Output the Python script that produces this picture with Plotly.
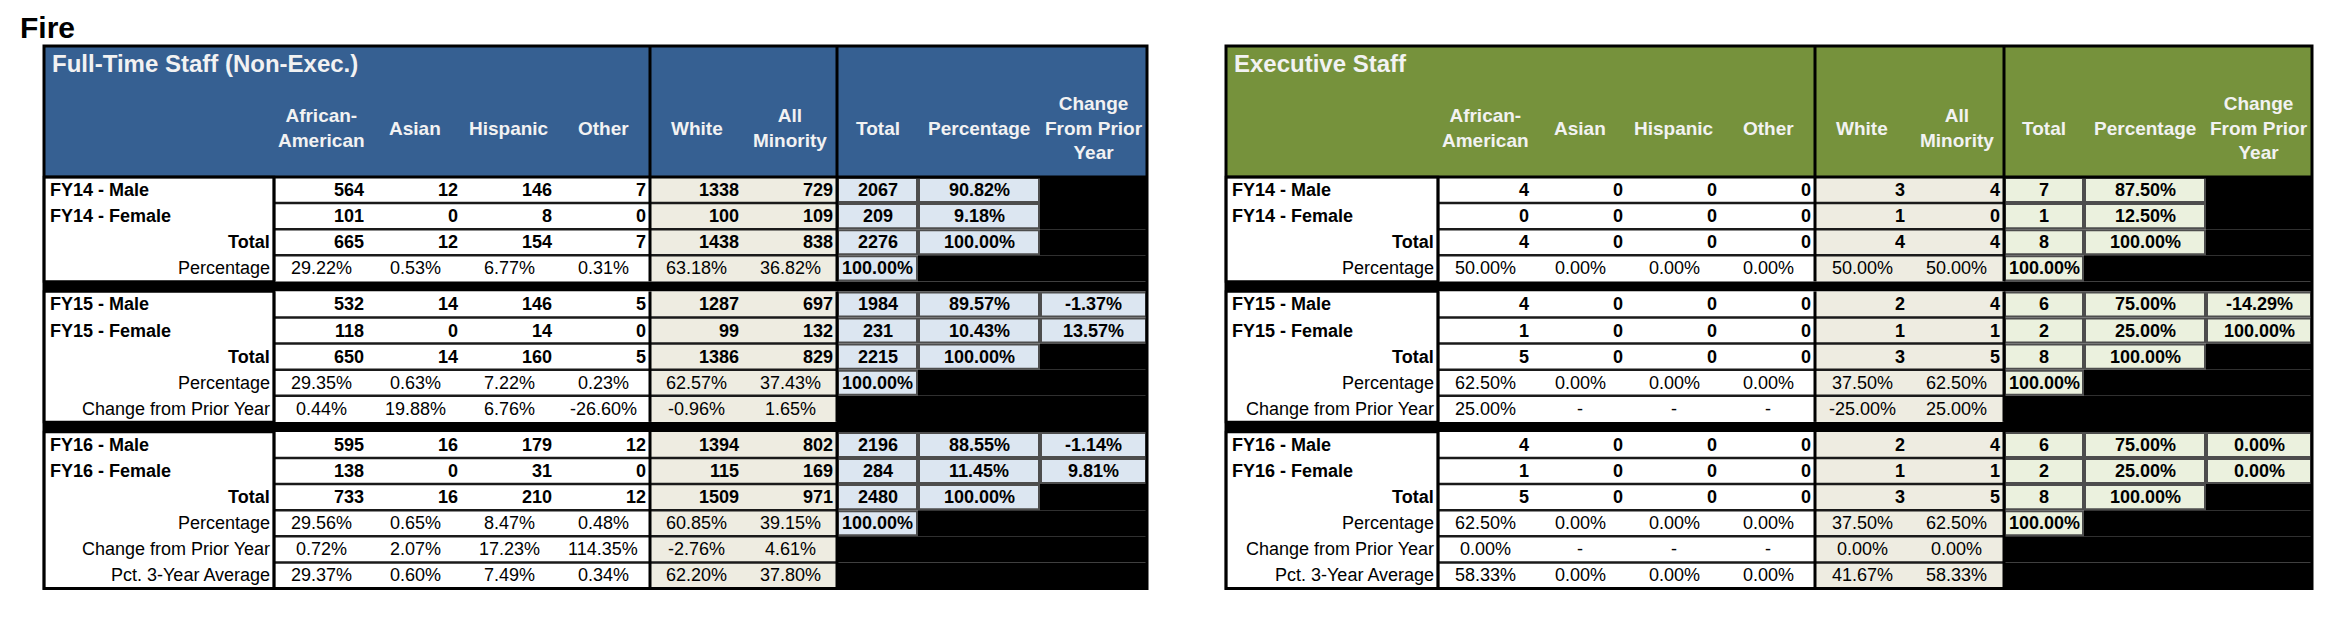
"""Fire department staffing tables (FY14-FY16) redrawn with Plotly."""

import plotly.graph_objects as go

HEADERS = [
    "African-<br>American", "Asian", "Hispanic", "Other", "White",
    "All<br>Minority", "Total", "Percentage", "Change<br>From Prior<br>Year",
]

# Full-Time Staff (Non-Exec.)  None = empty (black) cell
FT_FY14_MALE = [564, 12, 146, 7, 1338, 729, 2067, 90.82, None]
FT_FY14_FEMALE = [101, 0, 8, 0, 100, 109, 209, 9.18, None]
FT_FY14_TOTAL = [665, 12, 154, 7, 1438, 838, 2276, 100.00, None]
FT_FY14_PCT = [29.22, 0.53, 6.77, 0.31, 63.18, 36.82, 100.00, None, None]

FT_FY15_MALE = [532, 14, 146, 5, 1287, 697, 1984, 89.57, -1.37]
FT_FY15_FEMALE = [118, 0, 14, 0, 99, 132, 231, 10.43, 13.57]
FT_FY15_TOTAL = [650, 14, 160, 5, 1386, 829, 2215, 100.00, None]
FT_FY15_PCT = [29.35, 0.63, 7.22, 0.23, 62.57, 37.43, 100.00, None, None]
FT_FY15_CHANGE = [0.44, 19.88, 6.76, -26.60, -0.96, 1.65, None, None, None]

FT_FY16_MALE = [595, 16, 179, 12, 1394, 802, 2196, 88.55, -1.14]
FT_FY16_FEMALE = [138, 0, 31, 0, 115, 169, 284, 11.45, 9.81]
FT_FY16_TOTAL = [733, 16, 210, 12, 1509, 971, 2480, 100.00, None]
FT_FY16_PCT = [29.56, 0.65, 8.47, 0.48, 60.85, 39.15, 100.00, None, None]
FT_FY16_CHANGE = [0.72, 2.07, 17.23, 114.35, -2.76, 4.61, None, None, None]
FT_AVG_3YR = [29.37, 0.60, 7.49, 0.34, 62.20, 37.80, None, None, None]

# Executive Staff
EX_FY14_MALE = [4, 0, 0, 0, 3, 4, 7, 87.50, None]
EX_FY14_FEMALE = [0, 0, 0, 0, 1, 0, 1, 12.50, None]
EX_FY14_TOTAL = [4, 0, 0, 0, 4, 4, 8, 100.00, None]
EX_FY14_PCT = [50.00, 0.00, 0.00, 0.00, 50.00, 50.00, 100.00, None, None]

EX_FY15_MALE = [4, 0, 0, 0, 2, 4, 6, 75.00, -14.29]
EX_FY15_FEMALE = [1, 0, 0, 0, 1, 1, 2, 25.00, 100.00]
EX_FY15_TOTAL = [5, 0, 0, 0, 3, 5, 8, 100.00, None]
EX_FY15_PCT = [62.50, 0.00, 0.00, 0.00, 37.50, 62.50, 100.00, None, None]
EX_FY15_CHANGE = [25.00, "-", "-", "-", -25.00, 25.00, None, None, None]

EX_FY16_MALE = [4, 0, 0, 0, 2, 4, 6, 75.00, 0.00]
EX_FY16_FEMALE = [1, 0, 0, 0, 1, 1, 2, 25.00, 0.00]
EX_FY16_TOTAL = [5, 0, 0, 0, 3, 5, 8, 100.00, None]
EX_FY16_PCT = [62.50, 0.00, 0.00, 0.00, 37.50, 62.50, 100.00, None, None]
EX_FY16_CHANGE = [0.00, "-", "-", "-", 0.00, 0.00, None, None, None]
EX_AVG_3YR = [58.33, 0.00, 0.00, 0.00, 41.67, 58.33, None, None, None]


def year_groups(prefix, fy14, fy15, fy16, avg):
    """Row layout for the three fiscal-year blocks of one table."""
    return [
        [
            (f"{prefix[0]} - Male", "head", fy14[0]),
            (f"{prefix[0]} - Female", "head", fy14[1]),
            ("Total", "total", fy14[2]),
            ("Percentage", "plain", fy14[3]),
        ],
        [
            (f"{prefix[1]} - Male", "head", fy15[0]),
            (f"{prefix[1]} - Female", "head", fy15[1]),
            ("Total", "total", fy15[2]),
            ("Percentage", "plain", fy15[3]),
            ("Change from Prior Year", "plain", fy15[4]),
        ],
        [
            (f"{prefix[2]} - Male", "head", fy16[0]),
            (f"{prefix[2]} - Female", "head", fy16[1]),
            ("Total", "total", fy16[2]),
            ("Percentage", "plain", fy16[3]),
            ("Change from Prior Year", "plain", fy16[4]),
            ("Pct. 3-Year Average", "plain", avg),
        ],
    ]


YEARS = ["FY14", "FY15", "FY16"]

FT_GROUPS = year_groups(
    YEARS,
    [FT_FY14_MALE, FT_FY14_FEMALE, FT_FY14_TOTAL, FT_FY14_PCT],
    [FT_FY15_MALE, FT_FY15_FEMALE, FT_FY15_TOTAL, FT_FY15_PCT, FT_FY15_CHANGE],
    [FT_FY16_MALE, FT_FY16_FEMALE, FT_FY16_TOTAL, FT_FY16_PCT, FT_FY16_CHANGE],
    FT_AVG_3YR,
)
EX_GROUPS = year_groups(
    YEARS,
    [EX_FY14_MALE, EX_FY14_FEMALE, EX_FY14_TOTAL, EX_FY14_PCT],
    [EX_FY15_MALE, EX_FY15_FEMALE, EX_FY15_TOTAL, EX_FY15_PCT, EX_FY15_CHANGE],
    [EX_FY16_MALE, EX_FY16_FEMALE, EX_FY16_TOTAL, EX_FY16_PCT, EX_FY16_CHANGE],
    EX_AVG_3YR,
)

# layout (axis units = screen pixels)
FIG_W, FIG_H = 2352, 638
TOP = 46
HEAD_H = 131
TITLE_DY = 17
LABEL_DY = 82
ROW_H = 26.1
BAND_H = 10
LEFT_X0 = 44
LEFT_W = [230, 94, 94, 94, 94, 93, 94, 81, 122, 107]
RIGHT_X0 = 1226
RIGHT_W = [212, 95, 94, 94, 94, 94, 95, 80, 122, 106]

FONT = "Liberation Sans, Arial, Helvetica, sans-serif"
BEIGE = "#EEECE1"
GRID = "#1a1a1a"
BOX_LINE = "#4d4d4d"


def fmt(value):
    if isinstance(value, str):
        return value
    if isinstance(value, int):
        return str(value)
    return f"{value:.2f}%"


def rect(fig, x0, x1, y0, y1, fill=None, line=None, width=0):
    fig.add_shape(
        type="rect", xref="x", yref="y", x0=x0, x1=x1, y0=y0, y1=y1,
        fillcolor=fill if fill else "rgba(0,0,0,0)",
        line=dict(color=line if line else "rgba(0,0,0,0)", width=width),
    )


def hline(fig, x0, x1, y, color, width):
    fig.add_shape(type="line", xref="x", yref="y", x0=x0, x1=x1, y0=y, y1=y,
                  line=dict(color=color, width=width))


def vline(fig, x, y0, y1, color, width):
    fig.add_shape(type="line", xref="x", yref="y", x0=x, x1=x, y0=y0, y1=y1,
                  line=dict(color=color, width=width))


def text(fig, x, y, s, anchor="center", bold=False, size=18, color="black"):
    fig.add_annotation(
        x=x, y=y, xref="x", yref="y", text=f"<b>{s}</b>" if bold else s,
        showarrow=False, xanchor=anchor, yanchor="middle", align=anchor,
        font=dict(family=FONT, size=size, color=color),
    )


def draw_table(fig, x0, widths, title, head_color, box_color, groups):
    edges = [x0]
    for w in widths:
        edges.append(edges[-1] + w)
    left, right = edges[0], edges[-1]

    # header block
    head_bottom = TOP + HEAD_H
    rect(fig, left, right, TOP, head_bottom, fill=head_color)
    text(fig, left + 6, TOP + TITLE_DY, title, anchor="left", bold=True, size=24, color="#F2F2F2")
    for c, label in enumerate(HEADERS):
        cx = (edges[c + 1] + edges[c + 2]) / 2
        text(fig, cx, TOP + LABEL_DY, label, bold=True, size=19, color="#F2F2F2")
    vline(fig, edges[5], TOP, head_bottom, "black", 3)
    vline(fig, edges[7], TOP, head_bottom, "black", 3)

    y = head_bottom
    for gi, group in enumerate(groups):
        if gi > 0:
            rect(fig, left, right, y, y + BAND_H, fill="black")
            y += BAND_H
        group_top = y
        rect(fig, left, edges[1], group_top, group_top + ROW_H * len(group), fill="white")
        for label, style, values in group:
            y0, y1 = y, y + ROW_H
            cy = (y0 + y1) / 2
            # row label
            if style == "head":
                text(fig, left + 4, cy, label, anchor="left", bold=True)
            else:
                text(fig, edges[1] - 2, cy, label, anchor="right", bold=(style == "total"))
            for c, v in enumerate(values):
                cx0, cx1 = edges[c + 1], edges[c + 2]
                if c < 6:
                    rect(fig, cx0, cx1, y0, y1, fill="white" if c < 4 else BEIGE)
                    if isinstance(v, int):
                        text(fig, cx1 - 2, cy, fmt(v), anchor="right", bold=True)
                    else:
                        text(fig, (cx0 + cx1) / 2, cy, fmt(v))
                elif v is None:
                    rect(fig, cx0, cx1, y0, y1, fill="black")
                else:
                    rect(fig, cx0 + 1, cx1 - 1, y0 + 1, y1 - 1, fill=box_color, line=BOX_LINE, width=2)
                    text(fig, (cx0 + cx1) / 2, cy, fmt(v), bold=True)
            y = y1
        # row separators and column rules inside the value area
        for r in range(1, len(group)):
            hline(fig, edges[1], edges[7], group_top + r * ROW_H, GRID, 2.5)
        rect(fig, left, edges[1], group_top, y, line="black", width=2.5)
        for c in (1, 5, 7):
            vline(fig, edges[c], group_top, y, "black", 3)

    hline(fig, left, right, head_bottom, "black", 3)
    rect(fig, left, right, TOP, y, line="black", width=3)


fig = go.Figure()
draw_table(fig, LEFT_X0, LEFT_W, "Full-Time Staff (Non-Exec.)", "#366092", "#DCE6F1", FT_GROUPS)
draw_table(fig, RIGHT_X0, RIGHT_W, "Executive Staff", "#76923C", "#EBF1DE", EX_GROUPS)
fig.add_annotation(x=18, y=27, xref="x", yref="y", text="<b>Fire</b>", showarrow=False,
                   xanchor="left", yanchor="middle", font=dict(family=FONT, size=30, color="black"))

fig.update_layout(
    width=FIG_W, height=FIG_H,
    margin=dict(l=0, r=0, t=0, b=0),
    paper_bgcolor="white", plot_bgcolor="white",
    showlegend=False,
    xaxis=dict(range=[0, FIG_W], visible=False, fixedrange=True),
    yaxis=dict(range=[FIG_H, 0], visible=False, fixedrange=True),
)
# the page's default 8px body margin would shift the table off the reference grid
fig.write_html(
    "out.html",
    config={"displayModeBar": False},
    post_script="document.body.style.margin = '0';",
)
